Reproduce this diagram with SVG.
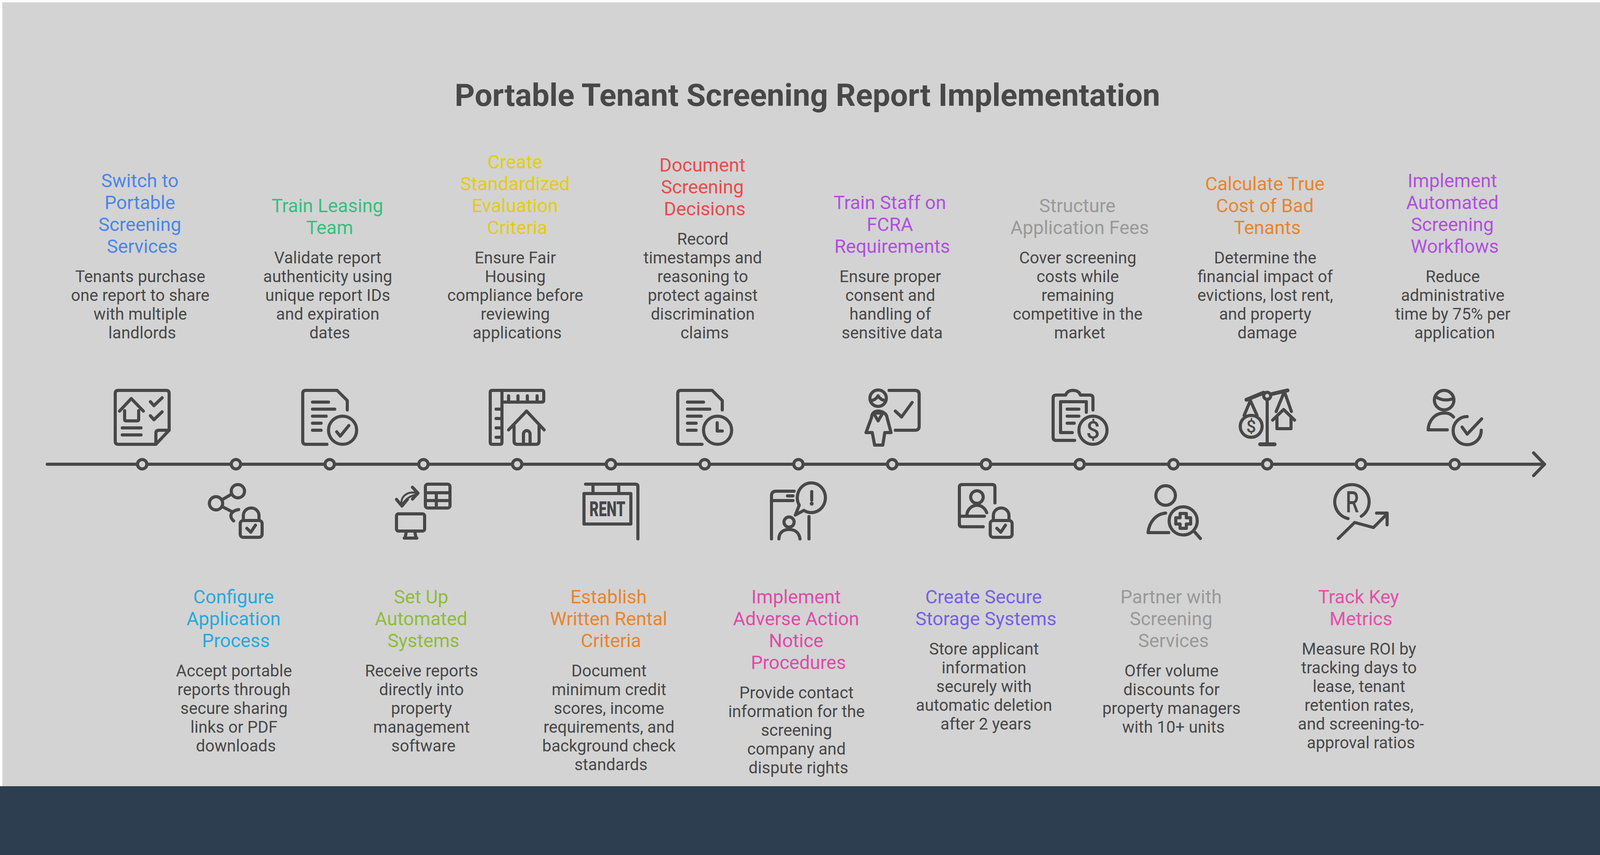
<svg xmlns="http://www.w3.org/2000/svg" width="4140" height="2188" viewBox="0 0 4140 2188">
<style>
text{font-family:Roboto,"Liberation Sans",sans-serif;text-anchor:middle}
.t{font-size:80px;font-weight:700;fill:#484848}
.h{font-size:48px}
.b{font-size:42px;fill:#484848}
.i{fill:none;stroke:#484848;stroke-width:8;stroke-linecap:round;stroke-linejoin:round}
.g{fill:#484848;stroke:none;font-weight:500}
.d{fill:#d3d3d3;stroke:#484848;stroke-width:8}
.blue{fill:#4a86e8}.green{fill:#34c07e}.yellow{fill:#e3cc0f}.red{fill:#e84b4b}.purple{fill:#b04fe0}.grey{fill:#999}.orange{fill:#e8842c}.sky{fill:#26a9de}.lime{fill:#8fbc3a}.pink{fill:#e04aa8}.indigo{fill:#7560e8}.rose{fill:#e54fa8}
</style>
<defs>
<marker id="arrow" markerUnits="userSpaceOnUse" markerWidth="44" markerHeight="76" refX="34" refY="38" orient="auto" viewBox="0 0 44 76"><path d="M6 9 L34 38 L6 67" fill="none" stroke="#484848" stroke-width="8" stroke-linecap="round" stroke-linejoin="round"/></marker>
<g id="lock" class="i"><rect x="84" y="97" width="56" height="43" rx="8"/><path d="M92 97 V84 A20 19 0 0 1 132 84 V97"/><path d="M101 117 L111 127 L123 109"/></g>
<g id="doc" class="i"><path d="M66 142 H12 Q4 142 4 134 V12 Q4 4 12 4 H92 L118 30 V54"/><path d="M29 34 H70 M29 52 H86 M29 70 H64 M29 88 H51 M29 106 H51"/><circle cx="106" cy="106" r="36"/></g>
</defs>
<rect width="4140" height="2188" fill="#fff"/>
<rect x="6" y="6" width="4128" height="2006" fill="#d3d3d3"/>
<rect y="2012" width="4140" height="176" fill="#2c3e50"/>
<text id="title" class="t" x="2067" y="271">Portable Tenant Screening Report Implementation</text>
<g id="connectors"><line x1="121" y1="1188" x2="3954" y2="1188" stroke="#484848" stroke-width="8" stroke-linecap="round" marker-end="url(#arrow)"/></g>

<g id="node-1"><circle class="d" cx="364" cy="1188" r="12"/>
<text class="h blue"><tspan x="358" y="478.5">Switch to</tspan><tspan x="358" y="534.5">Portable</tspan><tspan x="358" y="590.5">Screening</tspan><tspan x="364" y="646.5">Services</tspan></text>
<text class="b"><tspan x="359" y="722">Tenants purchase</tspan><tspan x="359" y="770">one report to share</tspan><tspan x="359" y="818">with multiple</tspan><tspan x="364" y="866">landlords</tspan></text>
<g class="i" transform="translate(291,995)"><path d="M108 142 H12 Q4 142 4 134 V12 Q4 4 12 4 H134 Q142 4 142 12 V106 Z"/><path d="M108 140 V114 Q108 106 116 106 H142"/><path d="M15 57 L45 25 L76 57 M28 56 V78 Q28 82 32 82 H60 Q64 82 64 78 V56"/><path d="M94 33 L103 43 L124 23 M94 69 L103 79 L124 59"/><path d="M22 100 H70 M22 118 H70"/></g></g>

<g id="node-2"><circle class="d" cx="604" cy="1188" r="12"/>
<text class="h sky"><tspan x="598" y="1544">Configure</tspan><tspan x="598" y="1600">Application</tspan><tspan x="604" y="1656">Process</tspan></text>
<text class="b"><tspan x="599" y="1731">Accept portable</tspan><tspan x="599" y="1779">reports through</tspan><tspan x="599" y="1827">secure sharing</tspan><tspan x="599" y="1875">links or PDF</tspan><tspan x="604" y="1923">downloads</tspan></text>
<g class="i" transform="translate(531,1235)"><circle cx="78" cy="22" r="17"/><circle cx="22" cy="53" r="17"/><path d="M39 43 L61 30 M39 62 L64 75"/><path d="M80 69 Q62 72 60 84 Q60 92 67 98"/></g><use href="#lock" transform="translate(531,1235)"/></g>

<g id="node-3"><circle class="d" cx="844" cy="1188" r="12"/>
<text class="h green"><tspan x="838" y="542.5">Train Leasing</tspan><tspan x="844" y="598.5">Team</tspan></text>
<text class="b"><tspan x="839" y="674">Validate report</tspan><tspan x="839" y="722">authenticity using</tspan><tspan x="839" y="770">unique report IDs</tspan><tspan x="839" y="818">and expiration</tspan><tspan x="844" y="866">dates</tspan></text>
<use href="#doc" transform="translate(771,995)"/><path class="i" transform="translate(771,995)" d="M91 110 L100 121 L122 94"/></g>

<g id="node-4"><circle class="d" cx="1084" cy="1188" r="12"/>
<text class="h lime"><tspan x="1078" y="1544">Set Up</tspan><tspan x="1078" y="1600">Automated</tspan><tspan x="1084" y="1656">Systems</tspan></text>
<text class="b"><tspan x="1079" y="1731">Receive reports</tspan><tspan x="1079" y="1779">directly into</tspan><tspan x="1079" y="1827">property</tspan><tspan x="1079" y="1875">management</tspan><tspan x="1084" y="1923">software</tspan></text>
<g class="i" transform="translate(1011,1235)"><rect x="78" y="4" width="63" height="61" rx="6"/><path d="M78 26 H141 M78 46 H141 M106 26 V65"/><path d="M45 12 L59 27 L45 42 M4 43 L18 60 L32 43"/><path d="M18 58 C12 38 30 20 58 27 M18 58 C24 46 34 34 58 30" style="stroke-width:5"/><rect x="4" y="80" width="72" height="44" rx="5"/><path d="M29 126 L26 142 M51 126 L54 142 M24 142 H56"/></g></g>

<g id="node-5"><circle class="d" cx="1324" cy="1188" r="12"/>
<text class="h yellow"><tspan x="1318" y="430.5">Create</tspan><tspan x="1318" y="486.5">Standardized</tspan><tspan x="1318" y="542.5">Evaluation</tspan><tspan x="1324" y="598.5">Criteria</tspan></text>
<text class="b"><tspan x="1319" y="674">Ensure Fair</tspan><tspan x="1319" y="722">Housing</tspan><tspan x="1319" y="770">compliance before</tspan><tspan x="1319" y="818">reviewing</tspan><tspan x="1324" y="866">applications</tspan></text>
<g class="i" transform="translate(1251,995)"><path d="M34 34 H136 Q141 34 141 29 V9 Q141 4 136 4 H9 Q4 4 4 9 V137 Q4 142 9 142 H29 Q34 142 34 137 V4"/><path d="M51 18 V34 M75 18 V34 M99 18 V34 M124 18 V34 M34 52 H19 M34 76 H19 M34 100 H19 M34 124 H19"/><path d="M51 105 L97 57 L142 105 M65 95 V134 Q65 142 73 142 H121 Q129 142 129 134 V95"/><path d="M89 142 V116 A8.500 9 0 0 1 106 116 V142"/></g></g>

<g id="node-6"><circle class="d" cx="1564" cy="1188" r="12"/>
<text class="h orange"><tspan x="1558" y="1544">Establish</tspan><tspan x="1558" y="1600">Written Rental</tspan><tspan x="1564" y="1656">Criteria</tspan></text>
<text class="b"><tspan x="1559" y="1731">Document</tspan><tspan x="1559" y="1779">minimum credit</tspan><tspan x="1559" y="1827">scores, income</tspan><tspan x="1559" y="1875">requirements, and</tspan><tspan x="1559" y="1923">background check</tspan><tspan x="1564" y="1971">standards</tspan></text>
<g class="i" transform="translate(1491,1235)"><path d="M8 4 H136 Q142 4 142 10 V144 M27 4 V28 M93 4 V28"/><rect x="4" y="28" width="120" height="78"/></g><text class="g" x="1555" y="1321" font-size="54" textLength="92" lengthAdjust="spacingAndGlyphs" style="font-weight:900">RENT</text></g>

<g id="node-7"><circle class="d" cx="1804" cy="1188" r="12"/>
<text class="h red"><tspan x="1798" y="438.500">Document</tspan><tspan x="1798" y="494.500">Screening</tspan><tspan x="1804" y="550.500">Decisions</tspan></text>
<text class="b"><tspan x="1799" y="626">Record</tspan><tspan x="1799" y="674">timestamps and</tspan><tspan x="1799" y="722">reasoning to</tspan><tspan x="1799" y="770">protect against</tspan><tspan x="1799" y="818">discrimination</tspan><tspan x="1804" y="866">claims</tspan></text>
<use href="#doc" transform="translate(1731,995)"/><path class="i" transform="translate(1731,995)" d="M105 87 V108 H118"/></g>

<g id="node-8"><circle class="d" cx="2044" cy="1188" r="12"/>
<text class="h pink"><tspan x="2038" y="1544">Implement</tspan><tspan x="2038" y="1600">Adverse Action</tspan><tspan x="2038" y="1656">Notice</tspan><tspan x="2044" y="1712">Procedures</tspan></text>
<text class="b"><tspan x="2039" y="1787">Provide contact</tspan><tspan x="2039" y="1835">information for the</tspan><tspan x="2039" y="1883">screening</tspan><tspan x="2039" y="1931">company and</tspan><tspan x="2044" y="1979">dispute rights</tspan></text>
<g class="i" transform="translate(1971,1235)"><path d="M4 144 V34 Q4 22 16 22 H62 M4 46 H59 M45 34 H59 M100 87 V144"/><path d="M75 58 L65 83 L87 71 A36 38 0 1 0 75 58"/><path d="M107 23 V45"/><circle cx="49" cy="101" r="13"/><path d="M23 144 C23 128 34 120 49 120 C64 120 75 128 77 144"/></g><circle class="g" cx="2078" cy="1289" r="5"/></g>

<g id="node-9"><circle class="d" cx="2284" cy="1188" r="12"/>
<text class="h purple"><tspan x="2278" y="534.500">Train Staff on</tspan><tspan x="2278" y="590.500">FCRA</tspan><tspan x="2284" y="646.500">Requirements</tspan></text>
<text class="b"><tspan x="2279" y="722">Ensure proper</tspan><tspan x="2279" y="770">consent and</tspan><tspan x="2279" y="818">handling of</tspan><tspan x="2284" y="866">sensitive data</tspan></text>
<g class="i" transform="translate(2212,995)"><circle cx="36" cy="24" r="21"/><path d="M19 30 Q30 28 36 18 Q42 28 53 30"/><path d="M36 57 C24 57 20 64 19 74 L5 112 H21 L27 144 H48 L53 112 H69 L59 74 C58 64 48 57 36 57 Z"/><path d="M24 62 L36 82 L48 62 Z"/><path d="M64 4 H130 Q141 4 141 14 V96 Q141 106 130 106 H80"/><path d="M80 57 L96 72 L123 35"/></g></g>

<g id="node-10"><circle class="d" cx="2524" cy="1188" r="12"/>
<text class="h indigo"><tspan x="2518" y="1544">Create Secure</tspan><tspan x="2524" y="1600">Storage Systems</tspan></text>
<text class="b"><tspan x="2519" y="1675">Store applicant</tspan><tspan x="2519" y="1723">information</tspan><tspan x="2519" y="1771">securely with</tspan><tspan x="2519" y="1819">automatic deletion</tspan><tspan x="2524" y="1867">after 2 years</tspan></text>
<g class="i" transform="translate(2451,1235)"><path d="M96 52 V12 Q96 5 89 5 H12 Q5 5 5 12 V106 Q5 113 12 113 H66 M5 86 H69"/><circle cx="50" cy="37" r="16"/><path d="M24 85 C24 70 36 58 50 58 C62 58 71 66 75 77"/></g><use href="#lock" transform="translate(2451,1235)"/></g>

<g id="node-11"><circle class="d" cx="2764" cy="1188" r="12"/>
<text class="h grey"><tspan x="2758" y="542.500">Structure</tspan><tspan x="2764" y="598.500">Application Fees</tspan></text>
<text class="b"><tspan x="2759" y="674">Cover screening</tspan><tspan x="2759" y="722">costs while</tspan><tspan x="2759" y="770">remaining</tspan><tspan x="2759" y="818">competitive in the</tspan><tspan x="2764" y="866">market</tspan></text>
<g class="i" transform="translate(2691,995)"><path d="M107 54 V24 Q107 16 99 16 H75 C72 8 65 4 56 4 C47 4 40 8 37 16 H13 Q5 16 5 24 V124 Q5 132 13 132 H60"/><path d="M90 60 V33 H24 V112 H54"/><path d="M41 52 H71 M41 70 H71 M41 88 H59"/><circle cx="107" cy="106" r="36"/></g><text class="g" x="2798" y="1122" font-size="62">$</text></g>

<g id="node-12"><circle class="d" cx="3004" cy="1188" r="12"/>
<text class="h grey"><tspan x="2998" y="1544">Partner with</tspan><tspan x="2998" y="1600">Screening</tspan><tspan x="3004" y="1656">Services</tspan></text>
<text class="b"><tspan x="2999" y="1731">Offer volume</tspan><tspan x="2999" y="1779">discounts for</tspan><tspan x="2999" y="1827">property managers</tspan><tspan x="3004" y="1875">with 10+ units</tspan></text>
<g class="i" transform="translate(2934,1235)"><circle cx="50" cy="33" r="25"/><path d="M50 78 C26 80 8 100 5 128 H58"/><circle cx="95" cy="98" r="36"/><path d="M125 127 L139 143"/><path d="M87 79 H103 V90 H114 V106 H103 V117 H87 V106 H76 V90 H87 Z"/></g></g>

<g id="node-13"><circle class="d" cx="3244" cy="1188" r="12"/>
<text class="h orange"><tspan x="3238" y="486.500">Calculate True</tspan><tspan x="3238" y="542.500">Cost of Bad</tspan><tspan x="3244" y="598.500">Tenants</tspan></text>
<text class="b"><tspan x="3239" y="674">Determine the</tspan><tspan x="3239" y="722">financial impact of</tspan><tspan x="3239" y="770">evictions, lost rent,</tspan><tspan x="3239" y="818">and property</tspan><tspan x="3244" y="866">damage</tspan></text>
<g class="i" transform="translate(3171,995)"><path d="M20 28 L64 10 M82 14 L125 4" style="stroke-width:10"/><circle cx="73" cy="18" r="9"/><path d="M73 30 V142"/><path d="M55 142 H92" style="stroke-width:10"/><path d="M14 68 L30 30 L47 68 M96 58 L117 7 L135 58"/><circle cx="32" cy="96" r="28"/><path d="M87 80 L115 53 L143 80 M98 72 V102 H134 V72"/></g><text class="g" x="3203" y="1107" font-size="44">$</text></g>

<g id="node-14"><circle class="d" cx="3484" cy="1188" r="12"/>
<text class="h rose"><tspan x="3478" y="1544">Track Key</tspan><tspan x="3484" y="1600">Metrics</tspan></text>
<text class="b"><tspan x="3479" y="1675">Measure ROI by</tspan><tspan x="3479" y="1723">tracking days to</tspan><tspan x="3479" y="1771">lease, tenant</tspan><tspan x="3479" y="1819">retention rates,</tspan><tspan x="3484" y="1867">and screening-to-</tspan><tspan x="3484" y="1915">approval ratios</tspan></text>
<g class="i" transform="translate(3411,1235)"><path d="M40 92 A44 44 0 1 1 74 86"/><path d="M15 143 L57 102 L105 115 L140 80 M113 78 H140 V108"/></g><text class="g" x="3462" y="1311" font-size="76" textLength="34" lengthAdjust="spacingAndGlyphs">R</text></g>

<g id="node-15"><circle class="d" cx="3724" cy="1188" r="12"/>
<text class="h purple"><tspan x="3718" y="478.500">Implement</tspan><tspan x="3718" y="534.500">Automated</tspan><tspan x="3718" y="590.500">Screening</tspan><tspan x="3724" y="646.500">Workflows</tspan></text>
<text class="b"><tspan x="3719" y="722">Reduce</tspan><tspan x="3719" y="770">administrative</tspan><tspan x="3719" y="818">time by 75% per</tspan><tspan x="3724" y="866">application</tspan></text>
<g class="i" transform="translate(3651,995)"><circle cx="46" cy="29" r="25"/><path d="M24 20 Q44 34 70 25"/><path d="M70 72 C62 63 55 62 46 62 C22 62 6 82 5 105 H54" /><path d="M105 71 A36 36 0 1 0 141 106"/><path d="M92 98 L105 116 L142 77"/></g></g>
</svg>
